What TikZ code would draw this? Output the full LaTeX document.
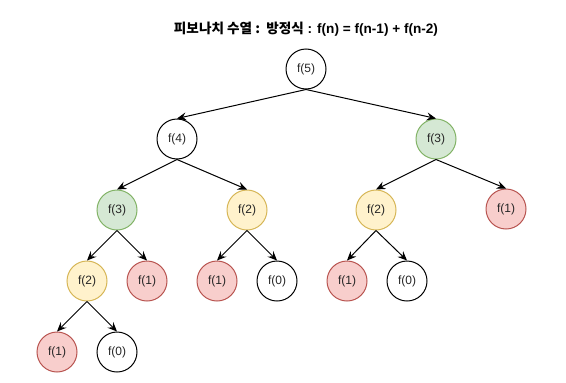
\documentclass[tikz,border=0pt]{standalone}
\usepackage{fontspec}
\setmainfont{Liberation Sans}
\newfontfamily\krfont{Noto Sans CJK KR}
\usetikzlibrary{arrows.meta}
\definecolor{gfill}{HTML}{D5E8D4}\definecolor{gline}{HTML}{82B366}
\definecolor{yfill}{HTML}{FFF2CC}\definecolor{yline}{HTML}{D6B656}
\definecolor{rfill}{HTML}{F8CECC}\definecolor{rline}{HTML}{B85450}
\begin{document}
\begin{tikzpicture}[x=0.75pt,y=-0.75pt,
  fnode/.style={circle,draw=black,line width=0.75pt,minimum size=30pt,inner sep=0pt,font=\fontsize{9}{11}\selectfont,text=black!85},
  gnode/.style={fnode,draw=gline,fill=gfill},
  ynode/.style={fnode,draw=yline,fill=yfill},
  rnode/.style={fnode,draw=rline,fill=rfill},
  edge/.style={line width=0.75pt,-{Stealth[length=7pt,width=6pt,inset=2.5pt]}}]
\useasboundingbox (0,0) rectangle (566,382);
\node[font=\fontsize{10.2}{12}\selectfont\bfseries] (title) at (306,29) {{\krfont\bfseries 피보나치 수열 :\ \ 방정식} : f(n) = f(n-1) + f(n-2)};
\node[fnode] (n5) at (306,69) {f(5)};
\node[fnode] (n4) at (177,139) {f(4)};
\node[gnode] (n3r) at (436,139) {f(3)};
\node[gnode] (n3l) at (117,210) {f(3)};
\node[ynode] (n2m) at (247,210) {f(2)};
\node[ynode] (n2r) at (376,210) {f(2)};
\node[rnode] (n1r) at (506,209) {f(1)};
\node[ynode] (n2l) at (87,281) {f(2)};
\node[rnode] (n1a) at (147,281) {f(1)};
\node[rnode] (n1b) at (217,281) {f(1)};
\node[fnode] (n0b) at (277,281) {f(0)};
\node[rnode] (n1c) at (347,281) {f(1)};
\node[fnode] (n0c) at (407,281) {f(0)};
\node[rnode] (n1d) at (57,352) {f(1)};
\node[fnode] (n0d) at (117,352) {f(0)};
\draw[edge] (n5.south) -- (n4.north);
\draw[edge] (n5.south) -- (n3r.north);
\draw[edge] (n4.south) -- (n3l.north);
\draw[edge] (n4.south) -- (n2m.north);
\draw[edge] (n3r.south) -- (n2r.north);
\draw[edge] (n3r.south) -- (n1r.north);
\draw[edge] (n3l.south) -- (n2l.north);
\draw[edge] (n3l.south) -- (n1a.north);
\draw[edge] (n2m.south) -- (n1b.north);
\draw[edge] (n2m.south) -- (n0b.north);
\draw[edge] (n2r.south) -- (n1c.north);
\draw[edge] (n2r.south) -- (n0c.north);
\draw[edge] (n2l.south) -- (n1d.north);
\draw[edge] (n2l.south) -- (n0d.north);
\end{tikzpicture}
\end{document}
